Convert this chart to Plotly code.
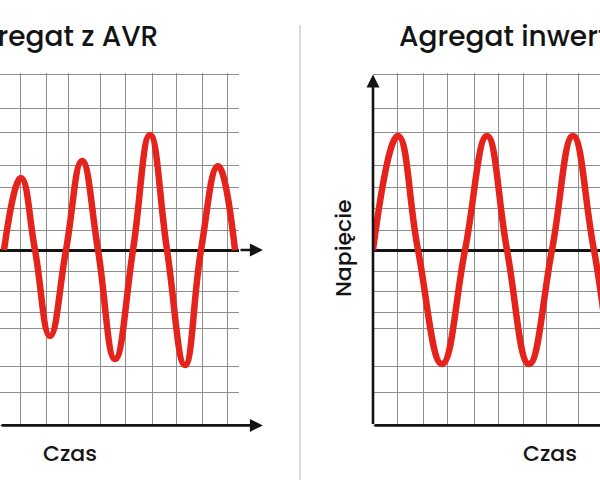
import plotly.graph_objects as go

# ---------------- data ----------------
# Left panel: generator with AVR (time in ms, voltage in V)
avr_t = [1.83, 5.71, 8.91, 12.34, 16.0, 19.66, 23.31, 27.2, 31.31, 35.2, 39.09, 43.2, 46.86, 50.74, 54.63]
avr_v = [0, 205, 0, -245, 0, 254, 0, -311, 0, 328, 0, -328, 0, 239, 0]

# Right panel: inverter generator
inv_t = [0, 5.71, 10.29, 15.77, 21.03, 26.06, 30.63, 35.66, 40.91, 45.71, 50.51, 55.77, 60.8]
inv_v = [0, 325, 0, -325, 0, 325, 0, -325, 0, 325, 0, -325, 0]

# grid positions
grid_v = [-500, -405, -331, -225, -177, -117, -60, 57, 117, 177, 240, 334, 402, 500]
grid_t_avr = [5.71, 11.43, 16.46, 23.77, 29.71, 35.66, 41.14, 47.09, 52.8]
grid_t_inv = [5.71, 11.43, 17.14, 23.09, 28.8, 34.51, 39.77, 46.86]

titles = ["Agregat z AVR", "Agregat inwerterowy"]
x_label = "Czas"
y_label = "Napięcie"

RED = "#e5231d"
GRID = "#8e8e8e"
INK = "#141414"
FONT = "Poppins, Inter, 'Open Sans', sans-serif"

fig = go.Figure()
fig.add_trace(go.Scatter(x=avr_t, y=avr_v, mode="lines", xaxis="x", yaxis="y",
                         line=dict(color=RED, width=6.5, shape="spline", smoothing=1.3),
                         hoverinfo="skip", showlegend=False))
fig.add_trace(go.Scatter(x=inv_t, y=inv_v, mode="lines", xaxis="x2", yaxis="y2",
                         line=dict(color=RED, width=6.5, shape="spline", smoothing=1.3),
                         hoverinfo="skip", showlegend=False))

yrng = [-505, 505]
ydom = [0.1101, 0.8482]
xcommon = dict(showgrid=True, gridcolor=GRID, gridwidth=1.2, zeroline=False,
               showticklabels=False, ticks="", showline=False, fixedrange=True)
ycommon = dict(range=yrng, domain=ydom, tickmode="array", tickvals=grid_v,
               showgrid=True, gridcolor=GRID, gridwidth=1.2,
               zeroline=True, zerolinecolor=INK, zerolinewidth=2.6,
               showticklabels=False, ticks="", showline=False, fixedrange=True)

fig.update_layout(
    width=600, height=480,
    margin=dict(l=0, r=0, t=0, b=0),
    paper_bgcolor="white", plot_bgcolor="white",
    xaxis=dict(domain=[0, 239 / 600], range=[0.914, 55.54], anchor="y",
               tickmode="array", tickvals=grid_t_avr, **xcommon),
    yaxis=dict(anchor="x", **ycommon),
    xaxis2=dict(domain=[373 / 600, 1], range=[0, 51.89], anchor="y2",
                tickmode="array", tickvals=grid_t_inv, **xcommon),
    yaxis2=dict(anchor="x2", **ycommon),
    showlegend=False,
)


def arrow(xr, yr, x, y, ax, ay, head=2):
    return dict(xref=xr, yref=yr, axref=xr, ayref=yr, x=x, y=y, ax=ax, ay=ay,
                text="", showarrow=True, arrowhead=head, arrowsize=1,
                arrowwidth=2.6, arrowcolor=INK, standoff=0, startstandoff=0)


def label(x, y, text, size, xanchor="center", angle=0):
    return dict(xref="paper", yref="paper", x=x, y=y, xanchor=xanchor, yanchor="middle",
                text=text, textangle=angle, showarrow=False,
                font=dict(family=FONT, size=size, color=INK, weight=500))


annotations = [
    # left panel: time axis extension and bottom axis
    arrow("x", "y", 61.0, 0, 55.54, 0),
    arrow("x", "y", 61.0, -500, 0.914, -500),
    # right panel: vertical axis and bottom axis
    arrow("x2", "y2", 0, 500, 0, -500),
    arrow("x2", "y2", 60, -500, 0, -500, head=0),
    # titles
    label(160 / 600, (480 - 37) / 480, titles[0], 28, xanchor="right"),
    label(397 / 600, (480 - 37) / 480, titles[1], 28, xanchor="left"),
    # axis labels
    label(69.5 / 600, (480 - 453) / 480, x_label, 22),
    label(550 / 600, (480 - 453) / 480, x_label, 22),
    label(344 / 600, (480 - 248) / 480, y_label, 22, angle=-90),
]
fig.update_layout(annotations=annotations)

fig.add_shape(type="line", xref="paper", yref="paper", x0=0.5, x1=0.5, y0=0, y1=(480 - 25) / 480,
              line=dict(color="#cfcfcf", width=1.5))

fig.write_html("out.html")
